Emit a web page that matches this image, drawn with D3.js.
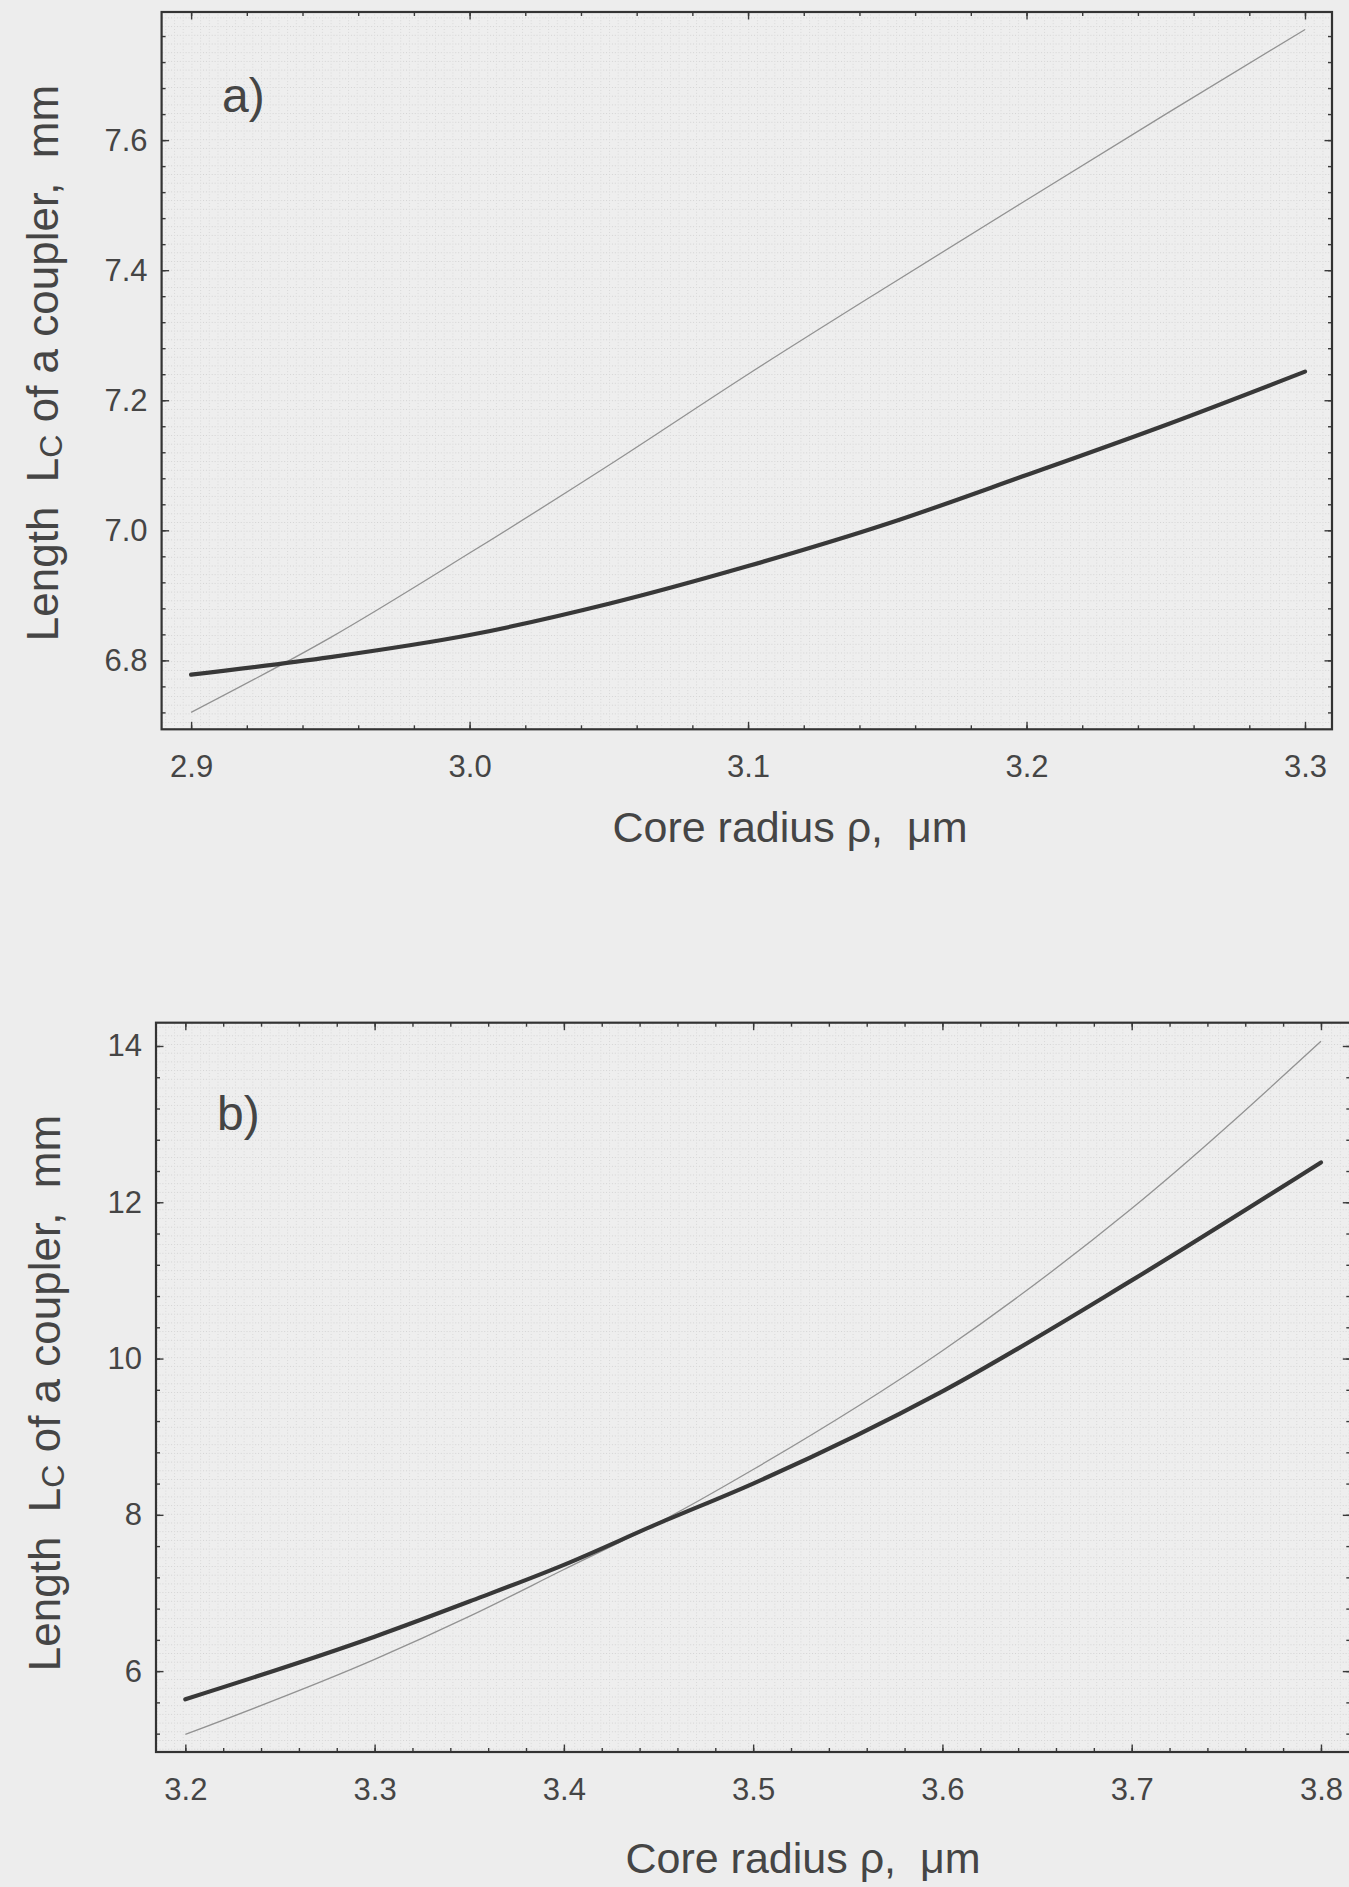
<!DOCTYPE html>
<html lang="en">
<head>
<meta charset="UTF-8">
<title>Coupler length vs core radius</title>
<style>
  body { margin: 0; background: #ededed; }
  text { font-family: "Liberation Sans", Arial, Helvetica, sans-serif; fill: #454545; }
  .pre { white-space: pre; }
</style>
</head>
<body>
<script src="https://d3js.org/d3.v7.min.js"></script>
<div id="chart"></div>
<script>

// panel a) data
var rhoA   = [2.90, 2.95, 3.00, 3.05, 3.10, 3.15, 3.20, 3.25, 3.30];
var thinA  = [6.720, 6.835, 6.965, 7.100, 7.240, 7.375, 7.508, 7.640, 7.770];
var thickA = [6.778, 6.805, 6.839, 6.887, 6.945, 7.010, 7.085, 7.162, 7.244];

// panel b) data
var rhoB   = [3.20, 3.30, 3.35, 3.40, 3.45, 3.50, 3.60, 3.70, 3.80];
var thinB  = [5.19, 6.15, 6.70, 7.30, 7.90, 8.58, 10.10, 11.92, 14.06];
var thickB = [5.64, 6.44, 6.89, 7.36, 7.89, 8.40, 9.58, 11.00, 12.51];

// tick labels
var xTicksA = [2.9, 3.0, 3.1, 3.2, 3.3];
var yTicksA = [6.8, 7.0, 7.2, 7.4, 7.6];
var xTicksB = [3.2, 3.3, 3.4, 3.5, 3.6, 3.7, 3.8];
var yTicksB = [6, 8, 10, 12, 14];

var W = 1349, H = 1887;

var svg = d3.select("#chart").append("svg")
    .attr("width", W)
    .attr("height", H);

svg.append("rect").attr("width", W).attr("height", H).attr("fill", "#ededed");

// faint dotted screen seen inside the plot frames
var defs = svg.append("defs");
var pat = defs.append("pattern")
    .attr("id", "dots")
    .attr("patternUnits", "userSpaceOnUse")
    .attr("width", 8.7).attr("height", 8.7);
pat.append("rect").attr("width", 8.7).attr("height", 8.7).attr("fill", "#eeeeee");
pat.append("line").attr("x1", 0).attr("x2", 8.7).attr("y1", 0.5).attr("y2", 0.5)
    .attr("stroke", "#d2d2d2").attr("stroke-width", 1).attr("stroke-dasharray", "1,1.9");
pat.append("line").attr("x1", 0.5).attr("x2", 0.5).attr("y1", 0).attr("y2", 8.7)
    .attr("stroke", "#d8d8d8").attr("stroke-width", 1).attr("stroke-dasharray", "1,1.9");

var panels = [
  { label: "a)", rho: rhoA, thin: thinA, thick: thickA,
    xTicks: xTicksA, yTicks: yTicksA, xMinor: 0.02, yMinor: 0.04, yFmt: d3.format(".1f"),
    xDom: [2.8894, 3.3097], yDom: [6.694, 7.797],
    left: 161.6, right: 1332, top: 12, bottom: 729.3,
    labelPos: [222, 112], yTitle: [58, 363], xTitle: [790, 842] },
  { label: "b)", rho: rhoB, thin: thinB, thick: thickB,
    xTicks: xTicksB, yTicks: yTicksB, xMinor: 0.02, yMinor: 0.4, yFmt: d3.format("d"),
    xDom: [3.1845, 3.8155], yDom: [4.965, 14.298],
    left: 156, right: 1350.3, top: 1022.7, bottom: 1752,
    labelPos: [217, 1130], yTitle: [60, 1393], xTitle: [803, 1873] }
];

panels.forEach(function(p) {

  var x = d3.scaleLinear().domain(p.xDom).range([p.left, p.right]);
  var y = d3.scaleLinear().domain(p.yDom).range([p.bottom, p.top]);

  var g = svg.append("g");

  g.append("rect")
    .attr("x", p.left).attr("y", p.top)
    .attr("width", p.right - p.left).attr("height", p.bottom - p.top)
    .attr("fill", "url(#dots)");

  // minor tick positions inside the domain
  var xMin = d3.range(Math.ceil(p.xDom[0] / p.xMinor), Math.floor(p.xDom[1] / p.xMinor) + 1)
      .map(function(i) { return +(i * p.xMinor).toFixed(3); });
  var yMin = d3.range(Math.ceil(p.yDom[0] / p.yMinor), Math.floor(p.yDom[1] / p.yMinor) + 1)
      .map(function(i) { return +(i * p.yMinor).toFixed(3); });

  function styleAxis(sel) {
    sel.select(".domain").remove();
    sel.selectAll("line").attr("stroke", "#3a3a3a").attr("stroke-width", 1.4);
    sel.selectAll("text")
      .style("font-size", "31px")
      .attr("fill", "#454545");
  }

  // bottom
  g.append("g").attr("transform", "translate(0," + p.bottom + ")")
    .call(d3.axisBottom(x).tickValues(xMin).tickSize(-4).tickFormat(""))
    .call(styleAxis);
  g.append("g").attr("transform", "translate(0," + p.bottom + ")")
    .call(d3.axisBottom(x).tickValues(p.xTicks).tickSize(-7.5).tickPadding(26).tickFormat(d3.format(".1f")))
    .call(styleAxis);
  // top
  g.append("g").attr("transform", "translate(0," + p.top + ")")
    .call(d3.axisTop(x).tickValues(xMin).tickSize(-4).tickFormat(""))
    .call(styleAxis);
  g.append("g").attr("transform", "translate(0," + p.top + ")")
    .call(d3.axisTop(x).tickValues(p.xTicks).tickSize(-7.5).tickFormat(""))
    .call(styleAxis);
  // left
  g.append("g").attr("transform", "translate(" + p.left + ",0)")
    .call(d3.axisLeft(y).tickValues(yMin).tickSize(-4).tickFormat(""))
    .call(styleAxis);
  g.append("g").attr("transform", "translate(" + p.left + ",0)")
    .call(d3.axisLeft(y).tickValues(p.yTicks).tickSize(-7.5).tickPadding(14).tickFormat(p.yFmt))
    .call(styleAxis);
  // right
  g.append("g").attr("transform", "translate(" + p.right + ",0)")
    .call(d3.axisRight(y).tickValues(yMin).tickSize(-4).tickFormat(""))
    .call(styleAxis);
  g.append("g").attr("transform", "translate(" + p.right + ",0)")
    .call(d3.axisRight(y).tickValues(p.yTicks).tickSize(-7.5).tickFormat(""))
    .call(styleAxis);

  // frame
  g.append("rect")
    .attr("x", p.left).attr("y", p.top)
    .attr("width", p.right - p.left).attr("height", p.bottom - p.top)
    .attr("fill", "none").attr("stroke", "#333").attr("stroke-width", 2.2);

  var line = d3.line()
    .x(function(d) { return x(d[0]); })
    .y(function(d) { return y(d[1]); })
    .curve(d3.curveMonotoneX);

  g.append("path")
    .datum(d3.zip(p.rho, p.thin))
    .attr("d", line)
    .attr("fill", "none")
    .attr("stroke", "#929292")
    .attr("stroke-width", 1.3);

  g.append("path")
    .datum(d3.zip(p.rho, p.thick))
    .attr("d", line)
    .attr("fill", "none")
    .attr("stroke", "#383838")
    .attr("stroke-width", 4.2)
    .attr("stroke-linecap", "round");

  // panel label
  g.append("text")
    .attr("x", p.labelPos[0]).attr("y", p.labelPos[1])
    .style("font-size", "48px")
    .text(p.label);

  // y title
  var yt = g.append("text")
    .attr("class", "pre")
    .attr("transform", "translate(" + p.yTitle[0] + "," + p.yTitle[1] + ") rotate(-90)")
    .attr("text-anchor", "middle")
    .style("font-size", "44px");
  yt.append("tspan").text("Length  L");
  yt.append("tspan").attr("dy", 4).style("font-size", "32px").text("C");
  yt.append("tspan").attr("dy", -4).text(" of a coupler,  mm");

  // x title
  g.append("text")
    .attr("class", "pre")
    .attr("x", p.xTitle[0]).attr("y", p.xTitle[1])
    .attr("text-anchor", "middle")
    .style("font-size", "43px")
    .text("Core radius \u03c1,  \u03bcm");
});

</script>
</body>
</html>
